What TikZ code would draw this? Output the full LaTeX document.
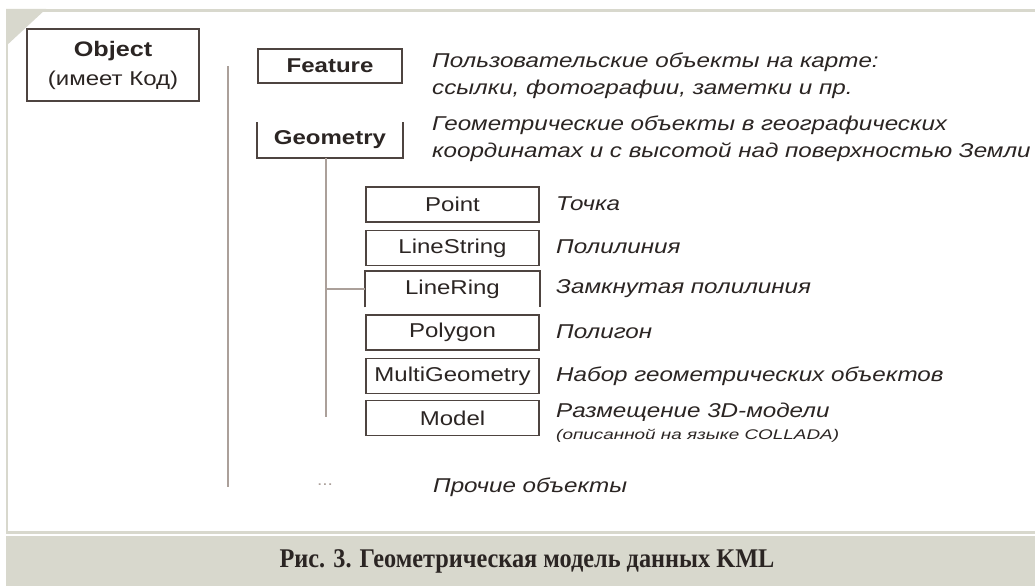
\documentclass[tikz,border=0pt]{standalone}
\usepackage{fontspec}
\setmainfont{Liberation Sans}[FakeStretch=1.2]
\newfontfamily\descfont{Liberation Sans}[FakeStretch=1.21]
\newfontfamily\notefont{Liberation Sans}[FakeStretch=1.35]
\newfontfamily\capfont{Liberation Serif}[FakeStretch=0.9]
\definecolor{frame}{HTML}{D8D8CD}
\definecolor{boxline}{HTML}{4E4440}
\definecolor{treeline}{HTML}{ABA09A}
\definecolor{ink}{HTML}{2B2523}
\tikzset{
  x=1pt, y=-1pt,
  kbox/.style={draw=boxline, line width=1.8pt, minimum width=#1, minimum height=35pt,
    inner sep=0pt, text=ink, font=\fontsize{20}{22}\selectfont},
  kbox/.default=173pt,
  openbox/.style={kbox=#1, draw=none},
  desc/.style={anchor=west, inner sep=0pt, text=ink, align=left,
    font=\descfont\itshape\fontsize{20}{27}\selectfont},
  tree/.style={draw=treeline, line width=1.6pt},
  bracket/.style={draw=boxline, line width=1.8pt},
}
\begin{document}
\begin{tikzpicture}
% page and frame
\fill[white] (0,0) rectangle (1035,586);
\fill[frame] (6,9) rectangle (1035,12);
\fill[frame] (6,9) rectangle (8,534);
\fill[frame] (6,9) -- (46,9) -- (6,46) -- cycle;
\fill[frame] (6,531) rectangle (1035,534);
\fill[frame] (6,536) rectangle (1035,586);
\node[text=ink, font=\capfont\bfseries\fontsize{27}{29}\selectfont] (caption) at (527,561)
  {Рис. 3. Геометрическая модель данных KML};

% root object
\node[kbox, minimum width=172pt, minimum height=72pt, align=center, line width=2pt] (object) at (113,65)
  {{\bfseries\fontsize{21}{23}\selectfont Object}\\[7pt]{\fontsize{20}{22}\selectfont(имеет Код)}};

% first level
\node[kbox=144pt, minimum height=34pt, font=\bfseries\fontsize{20}{22}\selectfont] (feature) at (330,66) {Feature};
\node[openbox=144pt, minimum height=34pt, font=\bfseries\fontsize{20}{22}\selectfont] (geometry) at (330,140) {Geometry};
\draw[bracket] (geometry.north west) -- (geometry.south west) -- (geometry.south east) -- (geometry.north east);

\node[desc] (featdesc) at (432,76) {Пользовательские объекты на карте:\\ссылки, фотографии, заметки и пр.};
\node[desc] (geomdesc) at (432,139) {Геометрические объекты в географических\\координатах и с высотой над поверхностью Земли};

% geometry subtypes
\node[kbox] (point) at (452.5,204.5) {Point};
\node[kbox] (linestring) at (452.5,248) {LineString};
\node[openbox] (linering) at (452.5,289) {LineRing};
\draw[bracket] (linering.south west) -- (linering.north west) -- (linering.north east) -- (linering.south east);
\node[kbox] (polygon) at (452.5,332.5) {Polygon};
\node[kbox] (multigeom) at (452.5,376) {MultiGeometry};
\node[kbox] (model) at (452.5,418) {Model};

\node[desc] (pointdesc) at (556,204) {Точка};
\node[desc] (linestringdesc) at (556,247) {Полилиния};
\node[desc] (lineringdesc) at (556,289) {Замкнутая полилиния};
\node[desc] (polygondesc) at (556,332) {Полигон};
\node[desc] (multigeomdesc) at (556,376) {Набор геометрических объектов};
\node[desc] (modeldesc) at (556,412) {Размещение 3D-модели};
\node[desc, font=\notefont\itshape\fontsize{14}{16}\selectfont] (modelnote) at (556,436) {(описанной на языке COLLADA)};

% others
\node[text=treeline, font=\fontsize{16}{18}\selectfont, inner sep=0pt] (dots) at (325,485) {...};
\node[desc] (otherdesc) at (433,487) {Прочие объекты};

% tree lines
\coordinate (rootTop) at (228,66);
\coordinate (rootEnd) at (228,487);
\draw[tree] (rootTop) -- (rootEnd);
\coordinate (geoTrunk) at (326,158);
\coordinate (geoEnd) at (326,417);
\draw[tree] (geoTrunk) -- (geoEnd);
\draw[tree] (geoTrunk |- linering.west) -- (linering.west);
\end{tikzpicture}
\end{document}
